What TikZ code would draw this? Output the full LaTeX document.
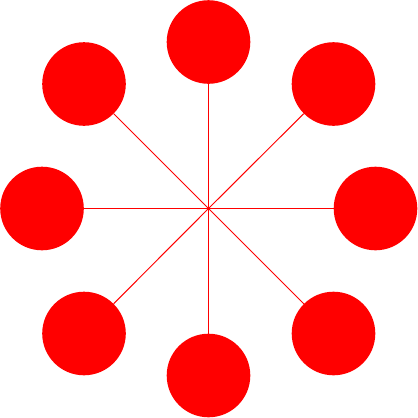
\documentclass[tikz,border=0pt]{standalone}
\definecolor{pure}{RGB}{255,0,0}
\begin{document}
\begin{tikzpicture}[x=1pt,y=-1pt,
  ball/.style={circle,fill=pure,draw=none,minimum size=83.6pt,inner sep=0pt},
  spoke/.style={draw=pure,line width=1pt}]
\useasboundingbox (0,0) rectangle (418,418);
\coordinate (c) at (208.5,208.5);
\node[ball] (t) at (208.5,42) {};
\node[ball] (tr) at (333.5,84) {};
\node[ball] (r) at (375.5,208.5) {};
\node[ball] (br) at (333.5,333.5) {};
\node[ball] (b) at (208.5,375.5) {};
\node[ball] (bl) at (84,333.5) {};
\node[ball] (l) at (42,208.5) {};
\node[ball] (tl) at (84,84) {};
\foreach \n in {t,tr,r,br,b,bl,l,tl} \draw[spoke] (c) -- (\n);
\end{tikzpicture}
\end{document}
